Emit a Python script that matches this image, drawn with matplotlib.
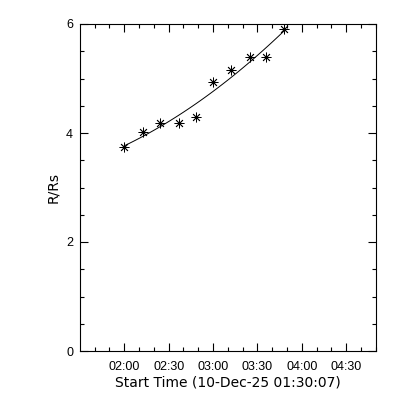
import matplotlib
matplotlib.use("Agg")
import matplotlib.pyplot as plt
from matplotlib.ticker import MultipleLocator, FixedLocator
import numpy as np

# minutes after the start time 01:30:07
t_min = [29.9, 42.3, 54.3, 66.7, 78.2, 89.9, 102.1, 114.7, 126.0, 137.9]
r_rs = [3.75, 4.01, 4.18, 4.19, 4.30, 4.93, 5.16, 5.39, 5.40, 5.90]

tick_labels = ["02:00", "02:30", "03:00", "03:30", "04:00", "04:30"]
tick_pos = [29.9, 59.9, 89.9, 119.9, 149.9, 179.9]

plt.rcParams['font.family'] = ['Liberation Sans', 'DejaVu Sans']
fig = plt.figure(figsize=(4, 4), dpi=100)
ax = fig.add_axes([0.2, 0.1225, 0.74, 0.8175])

ax.plot(t_min, r_rs, linestyle='none', marker=(8, 2, 0), markersize=7,
        markeredgewidth=0.6, color='black')

# second order fit through the points
coef = np.polyfit(t_min, r_rs, 2)
tt = np.linspace(t_min[0], t_min[-1], 100)
ax.plot(tt, np.polyval(coef, tt), color='black', lw=0.7)

ax.set_xlim(0, 200)
ax.set_ylim(0, 6)
ax.xaxis.set_major_locator(FixedLocator(tick_pos))
ax.set_xticklabels(tick_labels)
ax.xaxis.set_minor_locator(FixedLocator(np.arange(9.9, 200, 10)))
ax.yaxis.set_major_locator(MultipleLocator(2))
ax.yaxis.set_minor_locator(MultipleLocator(0.5))

ax.tick_params(which='both', direction='in', top=True, right=True,
               labelsize=9, width=0.8)
ax.tick_params(axis='x', pad=7)
ax.tick_params(axis='y', pad=5)
ax.tick_params(which='major', length=6)
ax.tick_params(which='minor', length=3)
for s in ax.spines.values():
    s.set_linewidth(0.8)

ax.set_xlabel("Start Time (10-Dec-25 01:30:07)", fontsize=10,
              family='DejaVu Sans', labelpad=2)
ax.set_ylabel("R/Rs", fontsize=10, family='DejaVu Sans', labelpad=4)

fig.savefig("out.png", dpi=100)
